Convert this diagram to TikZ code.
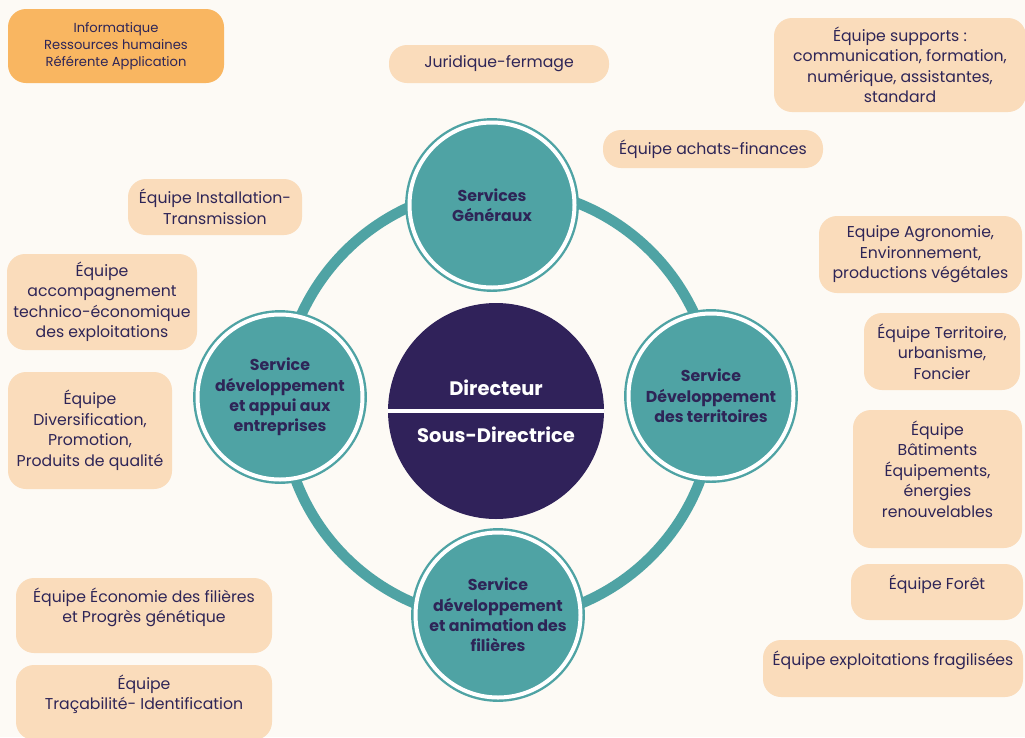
\documentclass[tikz,border=0pt]{standalone}
\usepackage{fontspec}
\setmainfont{Poppins}
\definecolor{bg}{RGB}{253,250,245}
\definecolor{peach}{RGB}{250,220,187}
\definecolor{orangebox}{RGB}{249,182,97}
\definecolor{teal}{RGB}{79,163,164}
\definecolor{darkp}{RGB}{48,34,90}
\definecolor{txt}{RGB}{46,37,87}
\tikzset{
  box/.style={rectangle, rounded corners=18pt, fill=peach, text=txt, align=center,
    inner sep=0pt, font=\fontsize{15.7}{20.5}\selectfont},
  svc/.style={circle, fill=teal, draw=teal, double=white, double distance=4pt,
    line width=2.4pt, minimum size=165pt, inner sep=0pt, align=center, text=txt,
    font=\bfseries\fontsize{15.8}{20.3}\selectfont},
}
\begin{document}
\begin{tikzpicture}[x=1pt,y=-1pt]
\useasboundingbox (0,0) rectangle (1025,737);
\fill[bg] (0,0) rectangle (1025,737);

% ring
\coordinate (ringc) at (498,404);
\draw[teal, line width=10.5pt] (ringc) circle (216pt);

% service circles
\node[svc] (sg) at (492,205) {Services\\Généraux};
\node[svc] (sdae) at (280,397) {Service\\développement\\et appui aux\\entreprises};
\node[svc] (sdt) at (711,396) {Service\\Développement\\des territoires};
\node[svc] (sdaf) at (498,615) {Service\\développement\\et animation des\\filières};

% director
\node[circle, fill=darkp, minimum size=216pt, inner sep=0pt, text=white, align=center,
  font=\bfseries\fontsize{19.5}{22}\selectfont] (dir) at (496,411) {Directeur\\[25pt]Sous-Directrice};
\draw[white, line width=3.5pt] (dir.west) -- (dir.east);

% boxes
\node[box, fill=orangebox, minimum width=216pt, minimum height=74pt,
  font=\fontsize{13.1}{17}\selectfont] (info) at (116,46) {Informatique\\Ressources humaines\\Référente Application};
\node[box, minimum width=220pt, minimum height=38pt] (jur) at (499,64) {Juridique-fermage};
\node[box, minimum width=252pt, minimum height=94pt] (sup) at (900,65) {Équipe supports :\\communication, formation,\\numérique, assistantes,\\standard};
\node[box, minimum width=220pt, minimum height=38pt] (ach) at (713,149) {Équipe achats-finances};
\node[box, minimum width=174pt, minimum height=56pt] (inst) at (215,207) {Équipe Installation-\\Transmission};
\node[box, minimum width=203pt, minimum height=77pt] (agro) at (920.5,254.5) {Equipe Agronomie,\\Environnement,\\productions végétales};
\node[box, minimum width=156pt, minimum height=77pt] (terr) at (942,351.5) {Équipe Territoire,\\urbanisme,\\Foncier};
\node[box, minimum width=169pt, minimum height=138pt] (bat) at (937.5,479) {Équipe\\Bâtiments\\Équipements,\\énergies\\renouvelables\\\mbox{}};
\node[box, minimum width=172pt, minimum height=56pt] (foret) at (937,592) {Équipe Forêt\\\mbox{}};
\node[box, minimum width=260pt, minimum height=57pt] (expl) at (893,668.5) {Équipe exploitations fragilisées\\\mbox{}};
\node[box, minimum width=190pt, minimum height=96pt] (acc) at (102,302) {Équipe\\accompagnement\\technico-économique\\des exploitations};
\node[box, minimum width=164pt, minimum height=117pt] (div) at (90,430.5) {Équipe\\Diversification,\\Promotion,\\Produits de qualité};
\node[box, minimum width=256pt, minimum height=75pt] (eco) at (144,615.5) {Équipe Économie des filières\\et Progrès génétique\\\mbox{}};
\node[box, minimum width=256pt, minimum height=75pt] (tra) at (144,702.5) {Équipe\\Traçabilité- Identification\\\mbox{}};
\end{tikzpicture}
\end{document}
